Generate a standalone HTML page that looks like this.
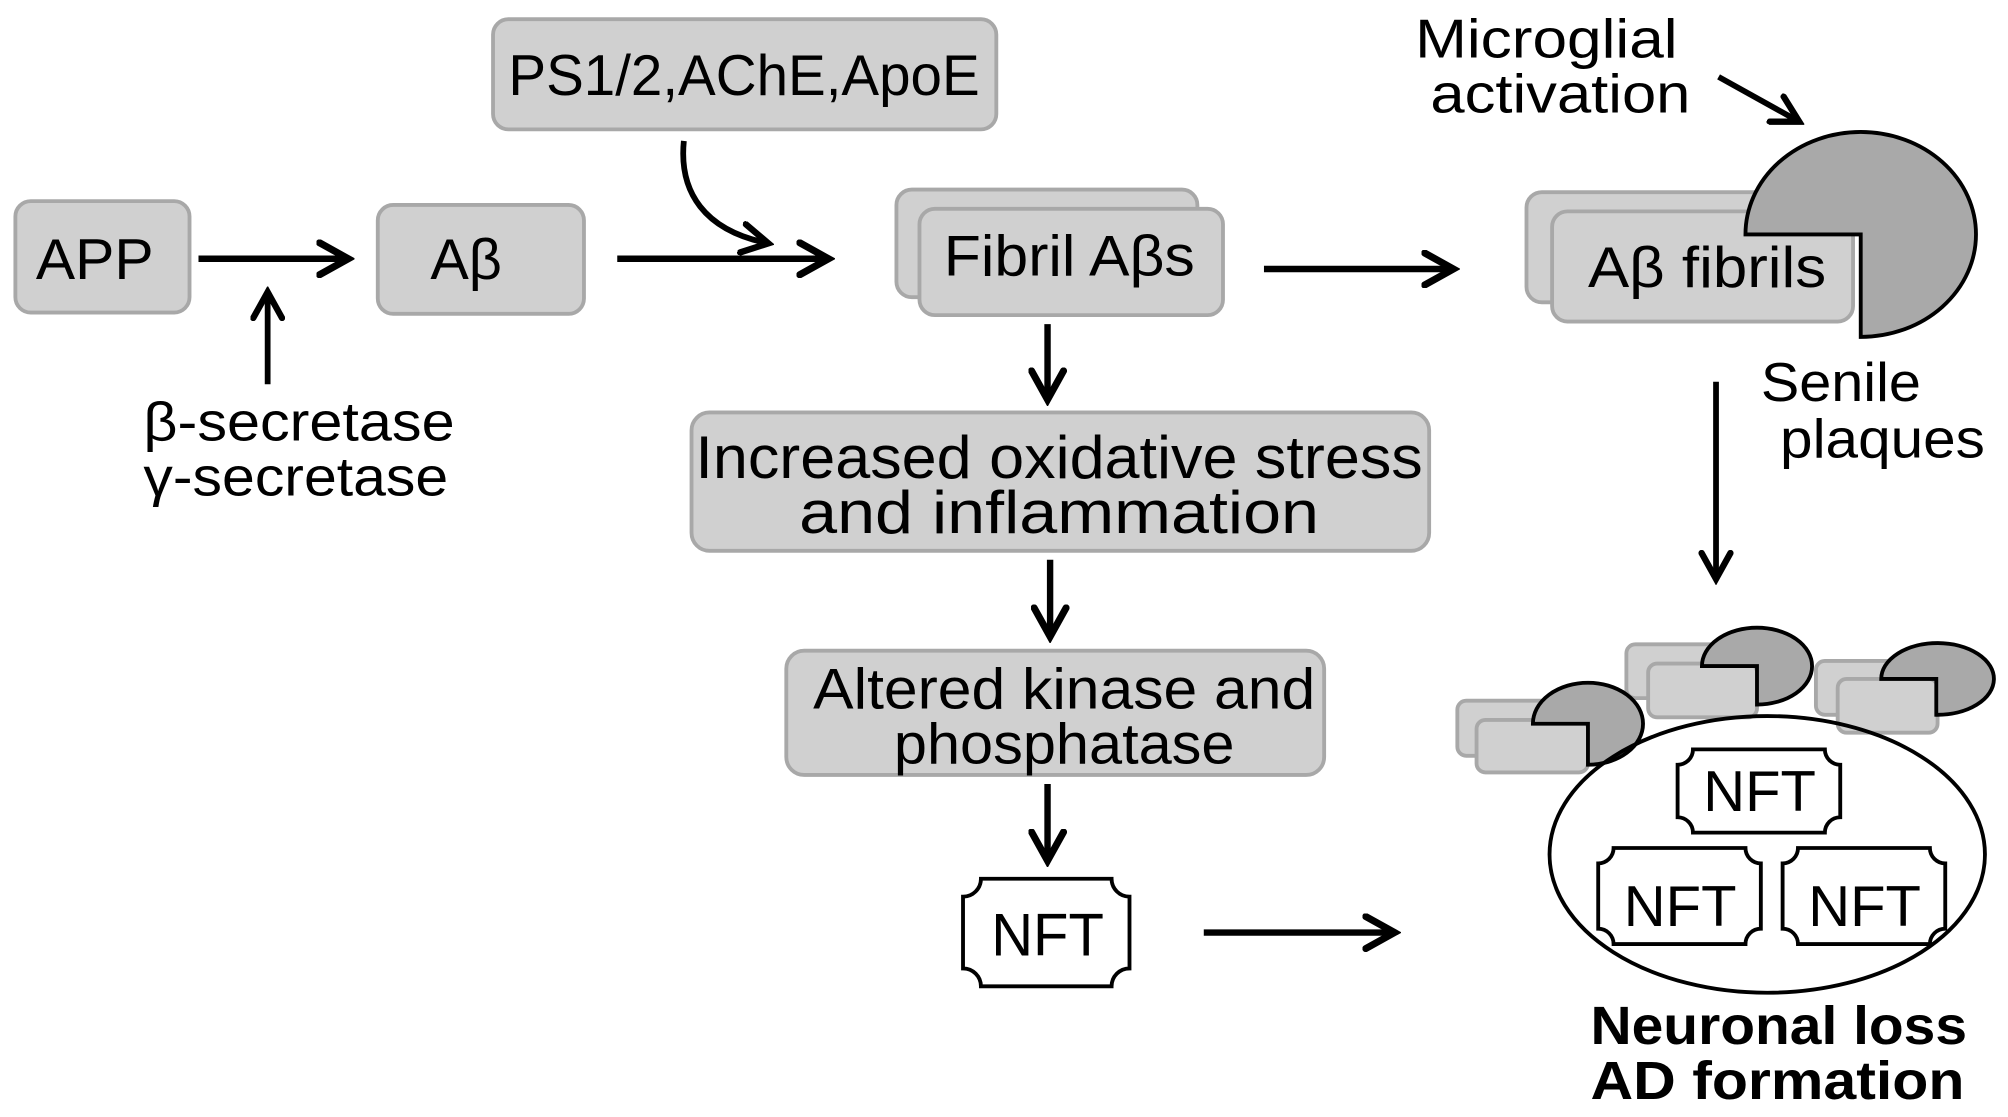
<!DOCTYPE html>
<html><head><meta charset="utf-8"><style>html,body{margin:0;padding:0;background:#fff}svg{display:block}</style></head>
<body>
<svg width="2008" height="1117" viewBox="0 0 1568 872" preserveAspectRatio="none" xmlns="http://www.w3.org/2000/svg" font-family="Liberation Sans, sans-serif">
<defs>
<marker id="ah" markerWidth="6" markerHeight="6" refX="5" refY="3" orient="auto" markerUnits="strokeWidth"><path d="M0.5,0.5 L5,3 L0.5,5.5" fill="none" stroke="#000" stroke-width="1.1" stroke-linecap="round"/></marker>
</defs>
<g fill="#d0d0d0" stroke="#a8a8a8" stroke-width="3">
<rect x="12" y="157" width="136" height="87" rx="12"/>
<rect x="295" y="160" width="161" height="85" rx="12"/>
<rect x="385" y="15" width="393" height="86" rx="12"/>
<rect x="700" y="148" width="235" height="84" rx="12"/>
<rect x="718" y="163" width="237" height="83" rx="12"/>
<rect x="1192" y="150" width="200" height="86" rx="12"/>
<rect x="1212" y="165" width="235" height="86" rx="12"/>
<rect x="540" y="322" width="576" height="108" rx="14"/>
<rect x="614" y="508" width="420" height="97" rx="14"/>
<rect x="1138" y="547" width="110" height="43" rx="7"/>
<rect x="1153" y="562" width="87" height="41" rx="7"/>
<rect x="1270" y="503" width="100" height="42" rx="7"/>
<rect x="1287" y="518" width="85" height="42" rx="7"/>
<rect x="1418" y="516" width="92" height="42" rx="7"/>
<rect x="1435" y="530" width="78" height="42" rx="7"/>
</g>
<g fill="#a9a9a9" stroke="#000" stroke-width="3">
<path d="M1453,183 L1363,183 A90 80 0 1 1 1453,263 Z"/>
<path d="M1240,565 L1197,565 A43 32 0 1 1 1240,597 Z"/>
<path d="M1372,520 L1329,520 A43 30 0 1 1 1372,550 Z"/>
<path d="M1512,530 L1469,530 A44 28 0 1 1 1512,558 Z"/>
</g>
<ellipse cx="1380" cy="667" rx="170" ry="108" fill="none" stroke="#000" stroke-width="3"/>
<g fill="#fff" stroke="#000" stroke-width="3">
<path d="M766,686 L868,686 A14 14 0 0 0 882,700 L882,756 A14 14 0 0 0 868,770 L766,770 A14 14 0 0 0 752,756 L752,700 A14 14 0 0 0 766,686 Z"/>
<path d="M1322,585 L1425,585 A12 12 0 0 0 1437,597 L1437,638 A12 12 0 0 0 1425,650 L1322,650 A12 12 0 0 0 1310,638 L1310,597 A12 12 0 0 0 1322,585 Z"/>
<path d="M1260,662 L1363,662 A12 12 0 0 0 1375,674 L1375,725 A12 12 0 0 0 1363,737 L1260,737 A12 12 0 0 0 1248,725 L1248,674 A12 12 0 0 0 1260,662 Z"/>
<path d="M1404,662 L1507,662 A12 12 0 0 0 1519,674 L1519,725 A12 12 0 0 0 1507,737 L1404,737 A12 12 0 0 0 1392,725 L1392,674 A12 12 0 0 0 1404,662 Z"/>
</g>
<g stroke="#000" stroke-width="5" fill="none" marker-end="url(#ah)">
<line x1="155" y1="202" x2="272" y2="202"/>
<line x1="482" y1="202" x2="647" y2="202"/>
<line x1="987" y1="210" x2="1135" y2="210"/>
<line x1="818" y1="253" x2="818" y2="312"/>
<line x1="820" y1="437" x2="820" y2="497"/>
<line x1="818" y1="612" x2="818" y2="672"/>
<line x1="940" y1="728" x2="1089" y2="728"/>
</g>
<g stroke="#000" stroke-width="4.5" fill="none" marker-end="url(#ah)">
<line x1="209" y1="300" x2="209" y2="228"/>
<path d="M534,110 C530,150 550,180 600,190"/>
<line x1="1342" y1="60" x2="1405" y2="95"/>
<line x1="1340" y1="298" x2="1340" y2="452"/>
</g>
<g font-size="45" fill="#000" text-anchor="middle">
<text x="74" y="218" textLength="92" lengthAdjust="spacingAndGlyphs">APP</text>
<text x="364" y="218">Aβ</text>
<text x="581" y="74" textLength="368" lengthAdjust="spacingAndGlyphs">PS1/2,AChE,ApoE</text>
<text x="835" y="215" textLength="196" lengthAdjust="spacingAndGlyphs">Fibril Aβs</text>
<text x="1333" y="224" textLength="186" lengthAdjust="spacingAndGlyphs">Aβ fibrils</text>
<text x="827" y="373" font-size="47" textLength="568" lengthAdjust="spacingAndGlyphs">Increased oxidative stress</text>
<text x="827" y="416" font-size="47" textLength="406" lengthAdjust="spacingAndGlyphs">and inflammation</text>
<text x="831" y="553" textLength="392" lengthAdjust="spacingAndGlyphs">Altered kinase and</text>
<text x="831" y="596" textLength="266" lengthAdjust="spacingAndGlyphs">phosphatase</text>
<text x="818" y="746" font-size="47" textLength="88" lengthAdjust="spacingAndGlyphs">NFT</text>
<text x="1374" y="633" textLength="88" lengthAdjust="spacingAndGlyphs">NFT</text>
<text x="1312" y="723" textLength="88" lengthAdjust="spacingAndGlyphs">NFT</text>
<text x="1456" y="723" textLength="88" lengthAdjust="spacingAndGlyphs">NFT</text>
</g>
<g font-size="43" fill="#000">
<text x="112" y="344" textLength="243" lengthAdjust="spacingAndGlyphs">β-secretase</text>
<text x="112" y="387" textLength="238" lengthAdjust="spacingAndGlyphs">γ-secretase</text>
<text x="1105" y="45" textLength="205" lengthAdjust="spacingAndGlyphs">Microglial</text>
<text x="1117" y="88" textLength="203" lengthAdjust="spacingAndGlyphs">activation</text>
<text x="1375" y="313" textLength="125" lengthAdjust="spacingAndGlyphs">Senile</text>
<text x="1390" y="357" textLength="160" lengthAdjust="spacingAndGlyphs">plaques</text>
<text x="1242" y="815" font-size="42" font-weight="bold" textLength="294" lengthAdjust="spacingAndGlyphs">Neuronal loss</text>
<text x="1242" y="858" font-size="42" font-weight="bold" textLength="292" lengthAdjust="spacingAndGlyphs">AD formation</text>
</g>
</svg>
</body></html>
